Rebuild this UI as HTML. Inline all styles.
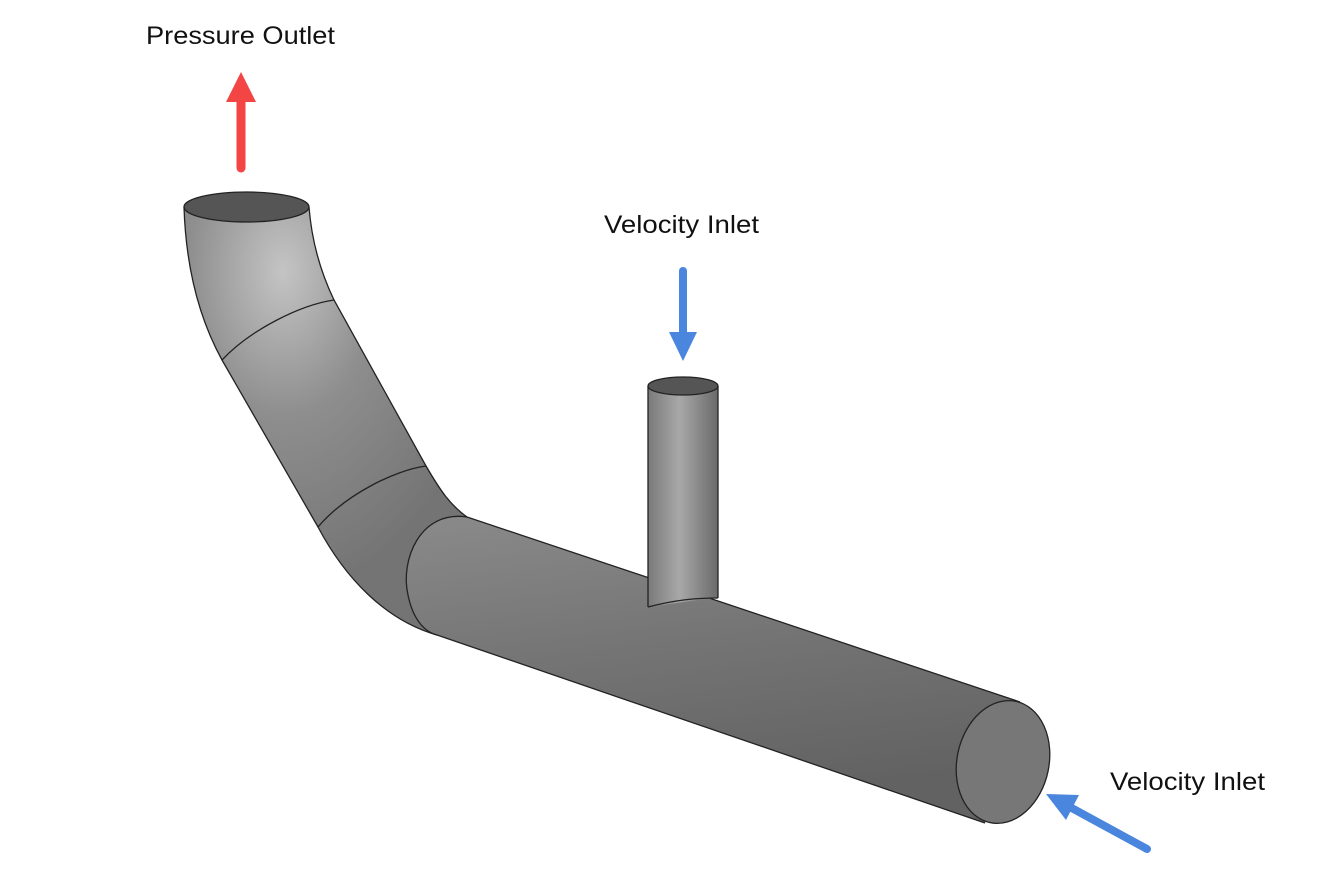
<!DOCTYPE html>
<html><head><meta charset="utf-8"><style>
html,body{margin:0;padding:0;background:#fff;}
svg{display:block;}
text{font-family:"Liberation Sans",sans-serif;font-size:25px;fill:#111;}
</style></head><body>
<svg width="1318" height="887" viewBox="0 0 1318 887" xmlns="http://www.w3.org/2000/svg">
<defs>
<linearGradient id="gMain" x1="0" y1="0" x2="0.25" y2="1">
<stop offset="0" stop-color="#8a8a8a"/><stop offset="0.5" stop-color="#747474"/><stop offset="1" stop-color="#626262"/>
</linearGradient>
<radialGradient id="gBend" cx="0.35" cy="0.15" r="0.75">
<stop offset="0" stop-color="#c4c4c4"/><stop offset="0.45" stop-color="#8e8e8e"/><stop offset="1" stop-color="#747474"/>
</radialGradient>
<linearGradient id="gVert" x1="0" y1="0" x2="1" y2="0">
<stop offset="0" stop-color="#7a7a7a"/><stop offset="0.45" stop-color="#a8a8a8"/><stop offset="1" stop-color="#6a6a6a"/>
</linearGradient>
</defs>

<!-- bend pipe -->
<path d="M184,207 C186,270 200,320 222,360 L318,527 C345,578 385,620 437,635 C425,632 413,620 408,595 C400,560 420,510 467,517 C450,505 440,490 426,466 L334,300 C322,275 312,245 309,207 Z" fill="url(#gBend)" stroke="none"/>

<!-- main pipe -->
<path d="M467,517 L1020,702 L985,823 L437,635 C425,632 413,620 408,595 C400,560 420,510 467,517 Z" fill="url(#gMain)" stroke="none"/>
<line x1="467" y1="517" x2="1020" y2="702" stroke="#222" stroke-width="1.3"/>
<line x1="437" y1="635" x2="985" y2="823" stroke="#222" stroke-width="1.3"/>

<path d="M184,207 C186,270 200,320 222,360 L318,527 C345,578 385,620 437,635" fill="none" stroke="#222" stroke-width="1.3"/>
<path d="M309,207 C312,245 322,275 334,300 L426,466 C440,490 450,505 467,517" fill="none" stroke="#222" stroke-width="1.3"/>
<!-- seams -->
<path d="M222,360 C250,330 300,305 334,300" fill="none" stroke="#222" stroke-width="1.3"/>
<path d="M318,527 C345,495 395,470 426,466" fill="none" stroke="#222" stroke-width="1.3"/>
<path d="M467,517 C420,510 400,560 408,595 C413,620 425,632 437,635" fill="none" stroke="#222" stroke-width="1.3"/>

<!-- top outlet -->
<ellipse cx="246.5" cy="207" rx="62.5" ry="15" fill="#555" stroke="#222" stroke-width="1.3"/>

<!-- end face -->
<ellipse cx="1003" cy="762" rx="46" ry="62" transform="rotate(12 1003 762)" fill="#777" stroke="#222" stroke-width="1.3"/>

<!-- vertical branch -->
<path d="M648,386 L648,607 C670,604 695,600 718,598 L718,386 Z" fill="url(#gVert)"/>
<line x1="648" y1="386" x2="648" y2="607" stroke="#222" stroke-width="1.3"/>
<line x1="718" y1="386" x2="718" y2="598" stroke="#222" stroke-width="1.3"/>
<path d="M648,607 C675,600 695,598 718,598" fill="none" stroke="#222" stroke-width="1.3"/>
<ellipse cx="683" cy="386" rx="35" ry="9" fill="#555" stroke="#222" stroke-width="1.3"/>

<!-- arrows -->
<line x1="241" y1="168" x2="241" y2="95" stroke="#f44545" stroke-width="9" stroke-linecap="round"/>
<polygon points="241,72 226,102 256,102" fill="#f44545"/>
<line x1="683" y1="271" x2="683" y2="335" stroke="#4a86dd" stroke-width="8" stroke-linecap="round"/>
<polygon points="683,361 669,332 697,332" fill="#4a86dd"/>
<line x1="1147" y1="849" x2="1068" y2="806" stroke="#4a86dd" stroke-width="8" stroke-linecap="round"/>
<polygon points="1046,794 1079,795 1066,820" fill="#4a86dd"/>

<text x="146" y="44" textLength="189" lengthAdjust="spacingAndGlyphs">Pressure Outlet</text>
<text x="604" y="233" textLength="155" lengthAdjust="spacingAndGlyphs">Velocity Inlet</text>
<text x="1110" y="790" textLength="155" lengthAdjust="spacingAndGlyphs">Velocity Inlet</text>
</svg>
</body></html>
